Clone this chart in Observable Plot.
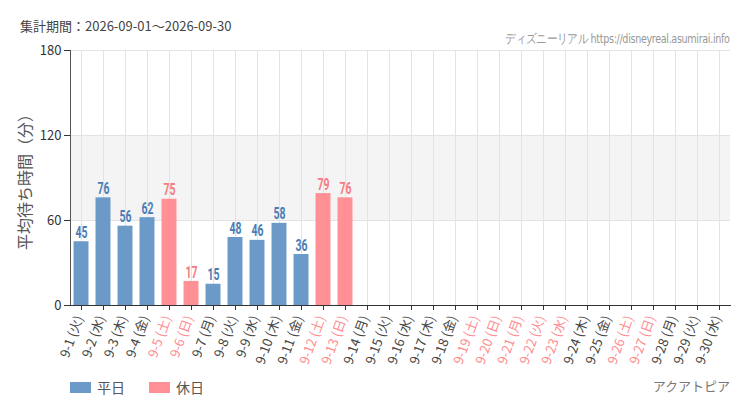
<!DOCTYPE html>
<html><head><meta charset="utf-8">
<script src="https://cdn.jsdelivr.net/npm/d3@7"></script>
<script src="https://cdn.jsdelivr.net/npm/@observablehq/plot@0.6"></script>
<style>
body{margin:0;background:#fff;font-family:"Noto Sans CJK JP","Noto Sans",sans-serif;}
#wrap{position:relative;width:750px;height:410px;}
.abs{position:absolute;white-space:nowrap;}
.cond{font-family:"DejaVu Sans Condensed","DejaVu Sans",sans-serif;font-stretch:condensed;}
</style></head>
<body><div id="wrap">
<div class="abs" style="left:20px;top:16px;font-size:13px;color:#444;">集計期間：2026-09-01～2026-09-30</div>
<div class="abs cond" style="right:20px;top:30px;font-size:13px;color:#999;letter-spacing:-0.4px;transform:scaleX(0.82);transform-origin:right center;">ディズニーリアル https://disneyreal.asumirai.info</div>
<div class="abs" style="left:70px;top:377px;font-size:14px;color:#555;display:flex;align-items:center;">
  <span style="display:inline-block;width:21px;height:11px;background:#6b9ac8;margin-right:6px;"></span>平日
  <span style="display:inline-block;width:21px;height:11px;background:#ff9196;margin:0 6px 0 24px;"></span>休日
</div>
<div class="abs" style="right:20px;top:376px;font-size:13px;color:#777;">アクアトピア</div>
<div id="chart"></div>
</div>
<script>
const days = d3.range(1, 31).map(d => `9-${d}`);
const weekdays = ["火","水","木","金","土","日","月","火","水","木","金","土","日","月","火","水","木","金","土","日","月","火","水","木","金","土","日","月","火","水"];
const holidayDays = [5,6,12,13,19,20,21,22,23,26,27];
const waitValues = [45,76,56,62,75,17,15,48,46,58,36,79,76,null,null,null,null,null,null,null,null,null,null,null,null,null,null,null,null,null];
const yTicks = [0,60,120,180];

const data = days.map((d, i) => ({
  day: d,
  label: `${d} (${weekdays[i]})`,
  holiday: holidayDays.includes(i + 1),
  value: waitValues[i]
}));
const bars = data.filter(d => d.value != null);
const labelOf = new Map(data.map(d => [d.day, d]));

const chart = Plot.plot({
  width: 750,
  height: 410,
  marginTop: 50,
  marginBottom: 105,
  marginLeft: 70,
  marginRight: 20,
  style: {fontFamily: "'Noto Sans CJK JP','Noto Sans',sans-serif", background: "transparent"},
  x: {type: "band", domain: days, paddingInner: 0.32, paddingOuter: 0.16, round: false, label: null, axis: null},
  y: {domain: [0, 180], label: null, axis: null},
  marks: [
    Plot.rect([{}], {y1: 60, y2: 120, fill: "#f4f4f4"}),
    Plot.gridX({stroke: "#e3e3e3", strokeOpacity: 1}),
    Plot.gridY({ticks: [60, 120, 180], stroke: "#e3e3e3", strokeOpacity: 1}),
    Plot.barY(bars, {x: "day", y: "value", fill: d => d.holiday ? "#ff9196" : "#6b9ac8"}),
    Plot.text(bars, {x: "day", y: "value", text: d => String(d.value), dy: -9,
      fill: d => d.holiday ? "#f77a80" : "#4a7cb4", fontSize: 16, fontWeight: "bold", fontFamily: "Roboto, sans-serif", className: "vlabel"}),
    Plot.frame({anchor: "left", stroke: "#555"}),
    Plot.frame({anchor: "bottom", stroke: "#333"}),
    Plot.axisY({ticks: yTicks, tickSize: 6, tickPadding: 3, fontSize: 13, fill: "#333", stroke: "#333", label: null}),
    Plot.axisX({tickSize: 5, stroke: "#333", tickFormat: () => "", label: null}),
    Plot.text(days, {x: d => d, frameAnchor: "bottom", dy: 12, dx: 2, rotate: -70, textAnchor: "end",
      text: d => labelOf.get(d).label, fontSize: 13,
      fill: d => labelOf.get(d).holiday ? "#ff8a8f" : "#444"})
  ]
});
document.getElementById("chart").appendChild(chart);

const svg = d3.select(chart);
svg.selectAll(".vlabel text").each(function() {
  const n = this.textContent.length;
  this.setAttribute("textLength", 6 * n);
  this.setAttribute("lengthAdjust", "spacingAndGlyphs");
});
svg.append("text")
  .attr("transform", "translate(27,178) rotate(-90)")
  .attr("text-anchor", "middle")
  .attr("dominant-baseline", "middle")
  .attr("font-size", 16)
  .attr("fill", "#555")
  .text("平均待ち時間（分）");
</script>
</body></html>
